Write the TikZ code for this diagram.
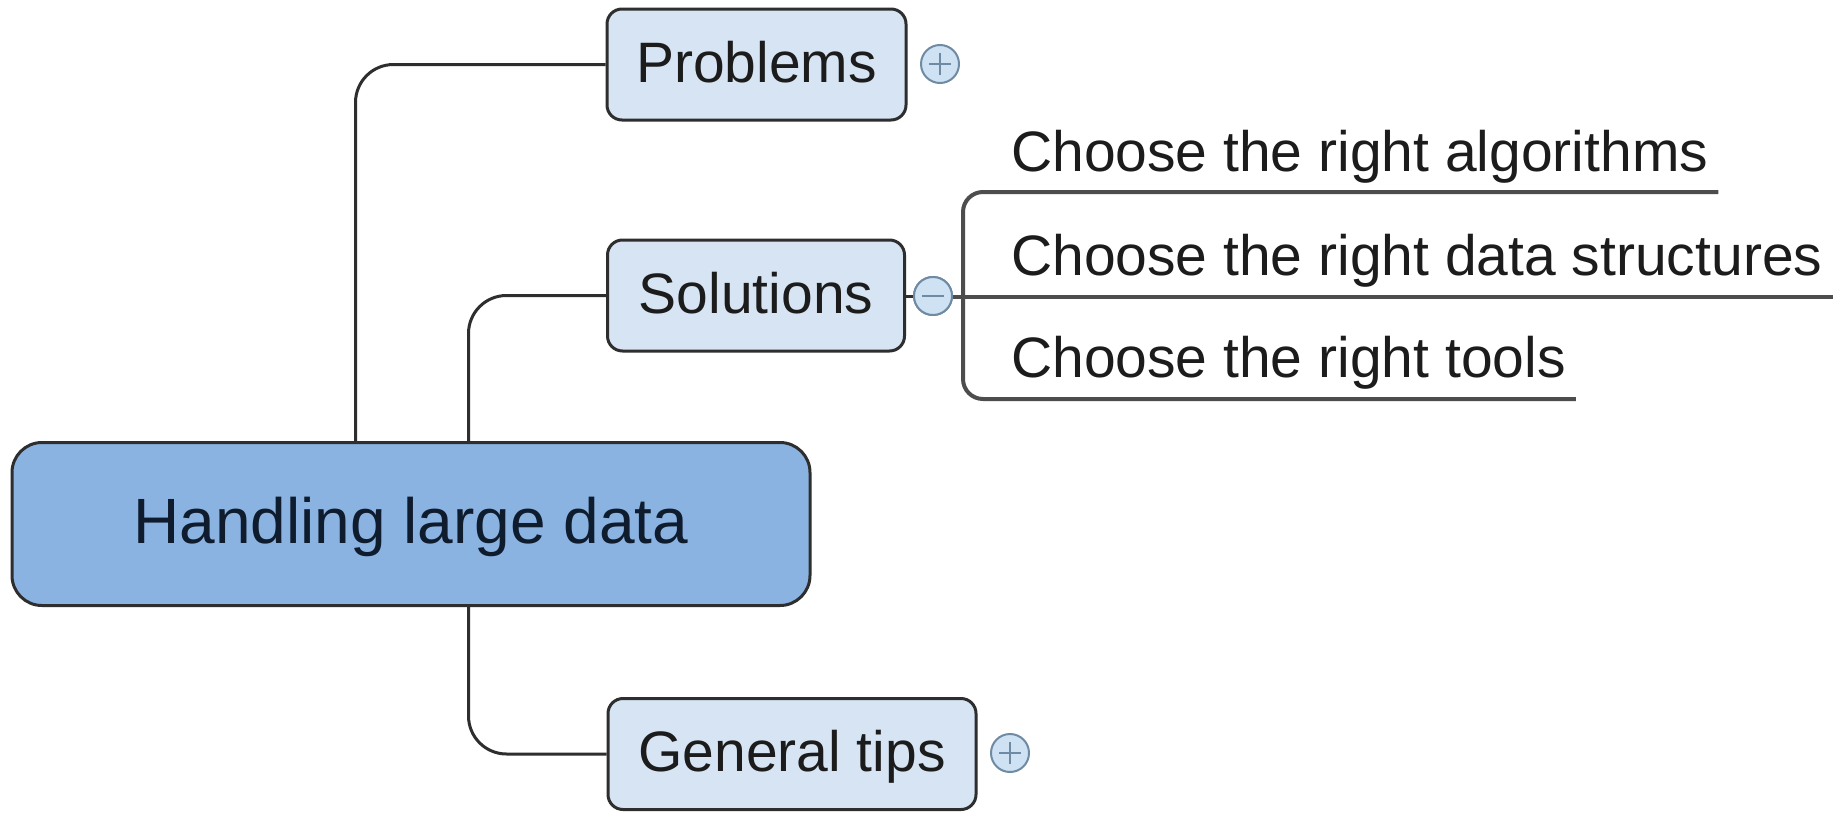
\documentclass[tikz,border=0pt]{standalone}
\usepackage{fontspec}
\setmainfont{Liberation Sans}
\usetikzlibrary{calc}
\definecolor{topicfill}{HTML}{D6E4F3}
\definecolor{centralfill}{HTML}{8BB3E1}
\definecolor{edge}{HTML}{2E2E2E}
\definecolor{circfill}{HTML}{CFE2F4}
\definecolor{circedge}{HTML}{6F8AA3}
\definecolor{txt}{HTML}{1C1C1C}
\definecolor{ctxt}{HTML}{0E1C2E}
\tikzset{
  topic/.style={draw=edge, line width=3pt, fill=topicfill, rounded corners=15pt,
    minimum height=111pt, inner xsep=0pt, text=txt,
    font=\fontsize{57}{60}\selectfont, text height=40pt, text depth=5pt},
  centraltopic/.style={draw=edge, line width=3pt, fill=centralfill, rounded corners=30pt,
    minimum width=798pt, minimum height=163pt, text=ctxt,
    font=\fontsize{64}{70}\selectfont, text height=45pt, text depth=7pt},
  subtopic/.style={anchor=base west, inner sep=0pt, text=txt,
    font=\fontsize{57}{60}\selectfont},
  conn/.style={draw=edge, line width=3pt, rounded corners=38pt},
  underline/.style={draw=edge!85, line width=4pt},
  toggle/.style={circle, draw=circedge, line width=2pt, fill=circfill,
    minimum size=38pt, inner sep=0pt},
  togglemark/.style={draw=circedge, line width=2.4pt},
}
\begin{document}
\begin{tikzpicture}[x=1pt, y=-1pt]
\useasboundingbox[fill=white] (0,0) rectangle (1845,814);

% central topic
\node[centraltopic] (central) at (411,524) {Handling large data};

% main topics
\node[topic, minimum width=299pt] (prob) at (756.5,64.5) {Problems};
\node[topic, minimum width=297pt] (sol) at (756,295.5) {Solutions};
\node[topic, minimum width=368pt] (tips) at (792,754) {General tips};

% toggles
\node[toggle] (pplus) at (940,64) {};
\draw[togglemark] ($(pplus.center)+(-11,0)$) -- ($(pplus.center)+(11,0)$)
  ($(pplus.center)+(0,-11)$) -- ($(pplus.center)+(0,11)$);
\node[toggle] (tplus) at (1010,753) {};
\draw[togglemark] ($(tplus.center)+(-11,0)$) -- ($(tplus.center)+(11,0)$)
  ($(tplus.center)+(0,-11)$) -- ($(tplus.center)+(0,11)$);

% connectors
\draw[conn] (prob.west) -| ($(central.north west)+(345,0)$);
\draw[conn] (sol.west) -| ($(central.north west)+(458,0)$);
\draw[conn] (tips.west) -| ($(central.south west)+(458,0)$);

% subtopics
\node[subtopic] (c1) at (1011,171) {Choose the right algorithms};
\node[subtopic] (c2) at (1011,275) {Choose the right data structures};
\node[subtopic] (c3) at (1011,377) {Choose the right tools};

\coordinate (e1) at ([xshift=10pt,yshift=-21pt]c1.base east);
\coordinate (e2) at ([xshift=10pt,yshift=-22pt]c2.base east);
\coordinate (e3) at ([xshift=10pt,yshift=-22pt]c3.base east);
\coordinate (bx) at (963,0);

\draw[underline, rounded corners=20pt] (e1) -- (e1 -| bx) -- (e3 -| bx) -- (e3);
\node[toggle] (smin) at (933,296) {};
\draw[underline] (smin.east |- e2) -- (e2);
\draw[edge, line width=3pt] (sol.east |- smin) -- (smin.west);
\node[toggle] (smin2) at (933,296) {};
\draw[togglemark] ($(smin2.center)+(-11,0)$) -- ($(smin2.center)+(11,0)$);
\end{tikzpicture}
\end{document}
